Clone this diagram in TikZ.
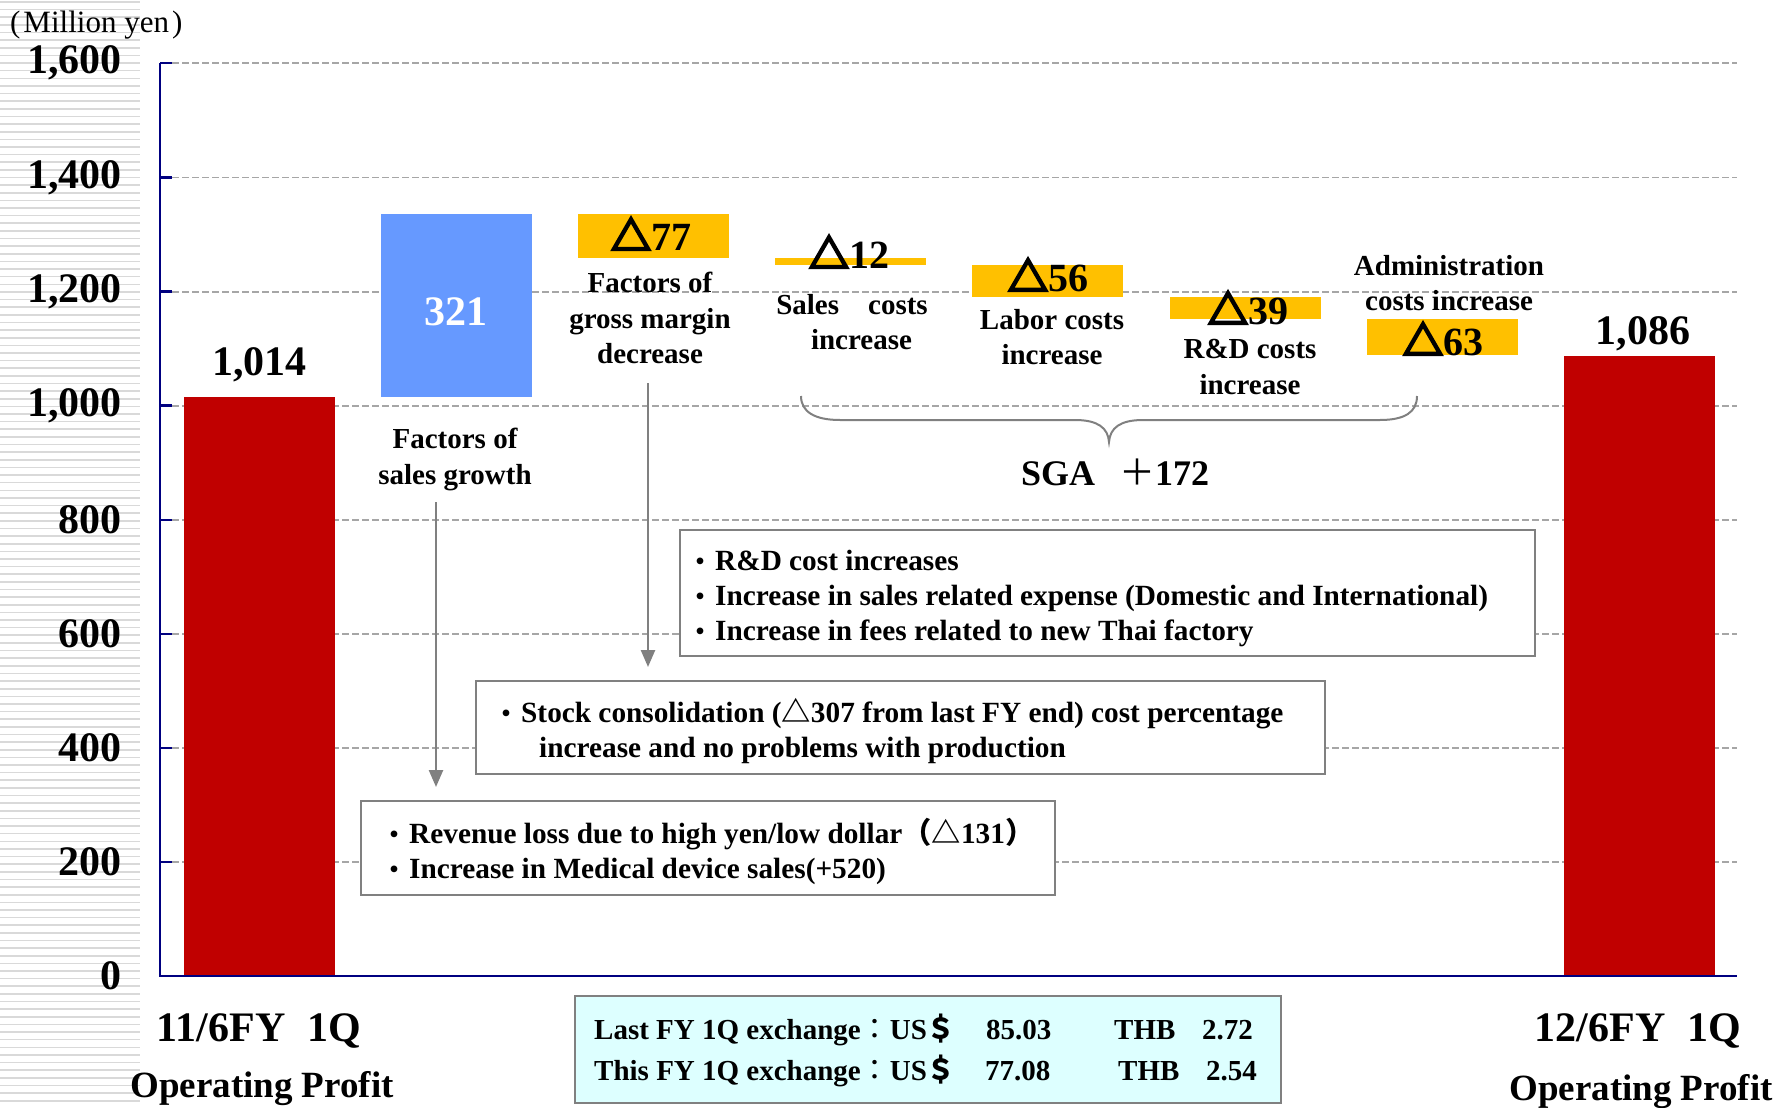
\documentclass[tikz,border=0pt]{standalone}
\usepackage{fontspec}
\setmainfont{Liberation Serif}
\newfontfamily\cjk{Noto Sans CJK JP}
\newfontfamily\tri{Noto Sans CJK JP}[FakeBold=6]
\usetikzlibrary{arrows.meta}
\definecolor{barred}{HTML}{C00000}
\definecolor{barblue}{HTML}{6699FF}
\definecolor{barorange}{HTML}{FFC000}
\definecolor{axisnavy}{HTML}{000080}
\definecolor{gridgray}{HTML}{A6A6A6}
\definecolor{boxgray}{HTML}{808080}
\definecolor{stripegray}{HTML}{D9D9D9}
\definecolor{excyan}{HTML}{DDFFFF}
\newcommand{\bul}{\makebox[29pt]{\cjk\fontsize{24}{24}\selectfont ・}}
\tikzset{
  stripe/.style={draw=stripegray, line width=1.6pt},
  gridline/.style={draw=gridgray, line width=1.8pt, dash pattern=on 6.5pt off 3.5pt},
  axisline/.style={draw=axisnavy, line width=2.5pt},
  bar/.style={rectangle, draw=none, minimum width=151pt, inner sep=0pt, outer sep=0pt},
  ylab/.style={font=\bfseries\fontsize{42}{50}\selectfont, anchor=east, inner sep=0pt},
  val/.style={font=\bfseries\fontsize{42}{50}\selectfont, inner sep=0pt},
  delta/.style={font=\bfseries\fontsize{40}{48}\selectfont, inner sep=0pt},
  lbl/.style={font=\bfseries\fontsize{29}{35.5}\selectfont, align=center, inner sep=0pt},
  cat/.style={font=\bfseries\fontsize{42}{50}\selectfont, inner sep=0pt},
  catb/.style={font=\bfseries\fontsize{37}{44}\selectfont, inner sep=0pt},
  notebox/.style={draw=boxgray, line width=2pt, fill=white, inner sep=0pt},
  notetxt/.style={align=left, anchor=west, inner sep=0pt,
    font=\bfseries\fontsize{29.3}{35}\selectfont},
  extxt/.style={font=\bfseries\fontsize{29}{35}\selectfont, anchor=west, inner sep=0pt},
  arr/.style={draw=boxgray, line width=2.5pt, -{Triangle[length=17pt,width=14pt]}},
  brace/.style={draw=boxgray, line width=2pt},
}
\begin{document}
\begin{tikzpicture}[x=1pt,y=-1pt]
\useasboundingbox (0,0) rectangle (1780,1108);
% left stripes
\foreach \k in {0,...,145} \draw[stripe] (0,\k*7.63+2) -- (140,\k*7.63+2);
% grid lines
\foreach \g in {862.0,747.9,633.8,519.8,405.6,291.6,177.4,63.0}
  \draw[gridline] (172,\g) -- (1737,\g);
% bars
\node[bar, fill=barred, minimum height=578.6pt] (b0) at (259.5,686.7) {};
\node[bar, fill=barblue, minimum height=183.2pt] (b1) at (456.6,305.8) {};
\node[bar, fill=barorange, minimum height=43.9pt] (b2) at (653.7,236.15) {};
\node[bar, fill=barorange, minimum height=6.9pt] (b3) at (850.8,261.55) {};
\node[bar, fill=barorange, minimum height=31.9pt] (b4) at (1047.9,280.95) {};
\node[bar, fill=barorange, minimum height=22.3pt] (b5) at (1245.0,308.05) {};
\node[bar, fill=barorange, minimum height=35.9pt] (b6) at (1442.1,337.15) {};
\node[bar, fill=barred, minimum height=619.7pt] (b7) at (1639.2,666.15) {};
% axes
\draw[axisline] (160,63) -- (160,976) -- (1737,976);
\foreach \g in {862.0,747.9,633.8,519.8,405.6,291.6,177.4,63.0}
  \draw[axisline] (160,\g) -- (172,\g);
% y labels
\node[font=\fontsize{31}{36}\selectfont, inner sep=0pt, anchor=west] (unit) at (10,25) {(\kern3pt Million yen\kern3pt)};
\node[ylab] (y8) at (122,63) {1,600};
\node[ylab] (y7) at (122,177.4) {1,400};
\node[ylab] (y6) at (122,291.6) {1,200};
\node[ylab] (y5) at (122,405.6) {1,000};
\node[ylab] (y4) at (122,519.8) {800};
\node[ylab] (y3) at (122,633.8) {600};
\node[ylab] (y2) at (122,747.9) {400};
\node[ylab] (y1) at (122,862.0) {200};
\node[ylab] (y0) at (122,976) {0};
% values
\node[val] (v0) at (259.5,364.5) {1,014};
\node[val, text=white] (v1) at (456,312) {321};
\node[val] (v7) at (1643,333.5) {1,086};
\node[delta] (d2) at (651,234) {{\tri △}77};
\node[delta] (d3) at (849,252) {{\tri △}12};
\node[delta] (d4) at (1048,275) {{\tri △}56};
\node[delta] (d5) at (1248,308) {{\tri △}39};
\node[delta] (d6) at (1443,339) {{\tri △}63};
% labels
\node[lbl] (fsg) at (455,459.5) {Factors of\\sales growth};
\node[lbl] (fgm) at (650,318) {Factors of\\gross margin\\decrease};
\node[lbl] (sci) at (852,322) {Sales\quad costs\\\hspace*{19pt}increase};
\node[lbl] (lci) at (1052,337) {Labor costs\\increase};
\node[lbl] (rci) at (1250,367) {R\&D costs\\increase};
\node[lbl] (aci) at (1449,283) {Administration\\costs increase};
% brace
\draw[brace] (801,396) .. controls (801,412) and (815,420) .. (840,420) -- (1075,420)
  .. controls (1098,420) and (1108,428) .. (1109,442)
  .. controls (1110,428) and (1120,420) .. (1143,420) -- (1380,420)
  .. controls (1405,420) and (1417,412) .. (1417,396);
\node[font=\bfseries\fontsize{36}{42}\selectfont, inner sep=0pt] (sga) at (1115,472) {SGA\hspace{24pt}{\cjk\mdseries ＋}172};
% note boxes
\node[notebox, minimum width=855pt, minimum height=126pt] (n1) at (1107.5,593) {};
\node[notetxt] (t1) at (686,598)
  {\bul R\&D cost increases\\\bul Increase in sales related expense (Domestic and International)\\\bul Increase in fees related to new Thai factory};
\node[notebox, minimum width=849pt, minimum height=93pt] (n2) at (900.5,727.5) {};
\node[notetxt] (t2) at (492,731)
  {\bul Stock consolidation ({\cjk △}307 from last FY end) cost percentage\\\hspace*{47pt}increase and no problems with production};
\node[notebox, minimum width=694pt, minimum height=94pt] (n3) at (708,848) {};
\node[notetxt] (t3) at (380,851)
  {\bul Revenue loss due to high yen/low dollar{\cjk （△}131{\cjk ）}\\\bul Increase in Medical device sales(+520)};
% arrows
\coordinate (a1s) at (436,502);
\coordinate (a1e) at (436,787);
\coordinate (a2s) at (648,383);
\coordinate (a2e) at (648,667);
\draw[arr] (a1s) -- (a1e);
\draw[arr] (a2s) -- (a2e);
% exchange box
\node[draw=boxgray, line width=2pt, fill=excyan, minimum width=706pt, minimum height=107pt, inner sep=0pt] (ex) at (928,1049.5) {};
\node[extxt] (e1a) at (594,1030) {Last FY 1Q exchange{\cjk\mdseries ：}US{\cjk ＄}};
\node[extxt] (e1b) at (986,1030) {85.03};
\node[extxt] (e1c) at (1114,1030) {THB};
\node[extxt] (e1d) at (1202,1030) {2.72};
\node[extxt] (e2a) at (594,1071) {This FY 1Q exchange{\cjk\mdseries ：}US{\cjk ＄}};
\node[extxt] (e2b) at (985,1071) {77.08};
\node[extxt] (e2c) at (1118,1071) {THB};
\node[extxt] (e2d) at (1206,1071) {2.54};
% categories
\node[cat] (c0a) at (259,1031) {11/6FY\hspace{22pt}1Q};
\node[catb] (c0b) at (262,1088.5) {Operating Profit};
\node[cat] (c7a) at (1638,1031) {12/6FY\hspace{22pt}1Q};
\node[catb] (c7b) at (1641,1091.5) {Operating Profit};
\end{tikzpicture}
\end{document}
